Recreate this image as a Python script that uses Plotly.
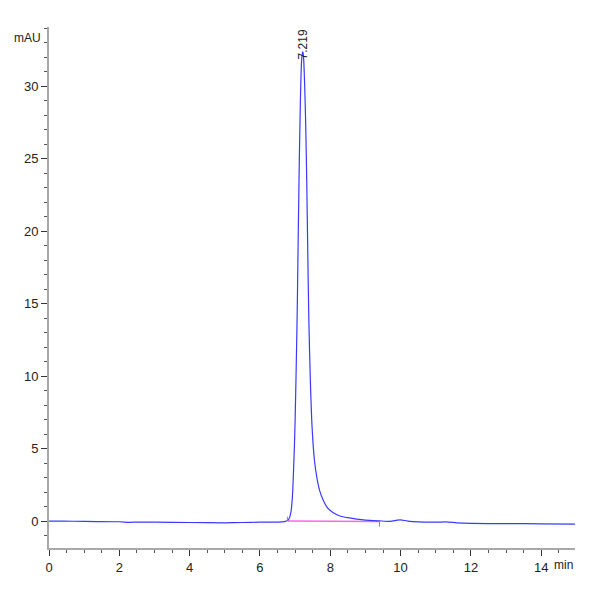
import plotly.graph_objects as go

# Chromatogram signal (time in min, absorbance in mAU)
time_min = [0.0, 0.4, 1.0, 2.0, 2.3, 2.5, 3.0, 4.0, 5.0, 5.5, 6.0, 6.5, 6.7,
            6.78, 6.83, 6.87, 6.90, 6.93, 6.95, 6.98, 7.00, 7.03, 7.06, 7.09,
            7.12, 7.15, 7.18, 7.20, 7.219, 7.24, 7.27, 7.30, 7.33, 7.36, 7.39,
            7.43, 7.48, 7.55, 7.62, 7.70, 7.80, 7.90, 8.00, 8.15, 8.30, 8.50,
            8.75, 9.00, 9.40, 9.70, 9.90, 10.0, 10.2, 10.5, 11.0, 11.3, 11.6,
            12.0, 13.0, 14.0, 14.96]
signal_mau = [0.02, 0.02, -0.01, -0.03, -0.07, -0.05, -0.06, -0.08, -0.10, -0.08,
              -0.06, -0.05, -0.02,
              0.05, 0.2, 0.5, 1.0, 2.0, 3.2, 5.2, 7.0, 10.5, 14.5, 20.0,
              25.0, 29.0, 31.6, 32.2, 32.4, 32.0, 30.2, 27.5, 23.5, 18.5, 13.9,
              10.0, 6.6, 4.2, 3.0, 2.1, 1.45, 1.0, 0.75, 0.5, 0.35, 0.25,
              0.15, 0.08, 0.03, 0.0, 0.08, 0.1, 0.02, -0.04, -0.06, -0.04, -0.1,
              -0.14, -0.16, -0.17, -0.19]

# Integration baseline
baseline_t = [6.78, 9.40]
baseline_y = [0.02, -0.02]

peak_rt = 7.219
peak_height = 32.4
peak_label = "7.219"

x_ticks = [0, 2, 4, 6, 8, 10, 12, 14]
y_ticks = [0, 5, 10, 15, 20, 25, 30]

font_family = "Liberation Sans Narrow, Arial Narrow, Liberation Sans, Arial"

fig = go.Figure()
fig.add_trace(go.Scatter(x=baseline_t, y=baseline_y, mode="lines",
                         line=dict(color="#ff66ee", width=1.5),
                         hoverinfo="skip", showlegend=False))
fig.add_trace(go.Scatter(x=time_min, y=signal_mau, mode="lines",
                         line=dict(color="#3a3aff", width=1.2, shape="spline", smoothing=0.6),
                         showlegend=False))

# baseline start tick (up) and end tick (down)
fig.add_shape(type="line", xref="x", yref="y", x0=baseline_t[0], x1=baseline_t[0],
              y0=baseline_y[0], y1=baseline_y[0] + 0.3, line=dict(color="#888888", width=1))
fig.add_shape(type="line", xref="x", yref="y", x0=baseline_t[1], x1=baseline_t[1],
              y0=baseline_y[1], y1=baseline_y[1] - 0.35, line=dict(color="#888888", width=1))

fig.add_annotation(x=peak_rt, y=peak_height, xref="x", yref="y", text=peak_label,
                   textangle=-90, showarrow=False, yanchor="bottom", yshift=-10,
                   xshift=0, font=dict(family=font_family, size=12, color="#222222"))

fig.add_annotation(x=0, y=1, xref="paper", yref="paper", text="mAU", showarrow=False,
                   xanchor="right", yanchor="top", xshift=-6, yshift=-2,
                   font=dict(family=font_family, size=12, color="#222222"))
fig.add_annotation(x=1, y=0, xref="paper", yref="paper", text="min", showarrow=False,
                   xanchor="right", yanchor="top", yshift=-8,
                   font=dict(family=font_family, size=12, color="#222222"))

fig.update_layout(
    width=600, height=600,
    margin=dict(l=49, r=25, t=27, b=52),
    paper_bgcolor="white", plot_bgcolor="white",
    font=dict(family=font_family, size=13, color="#222222"),
    xaxis=dict(range=[0, 14.96], tickvals=x_ticks, ticks="outside", ticklen=6,
               tickcolor="#333333", showgrid=False, zeroline=False,
               showline=True, linecolor="#a8a8a8", linewidth=2,
               minor=dict(dtick=0.5, ticks="outside", ticklen=3, tickcolor="#555555", showgrid=False)),
    yaxis=dict(range=[-1.84, 34.1], tickvals=y_ticks, ticks="outside", ticklen=6,
               tickcolor="#333333", showgrid=False, zeroline=False,
               showline=True, linecolor="#a8a8a8", linewidth=2,
               minor=dict(dtick=1, ticks="outside", ticklen=3, tickcolor="#555555", showgrid=False)),
)

fig.write_html("out.html")
